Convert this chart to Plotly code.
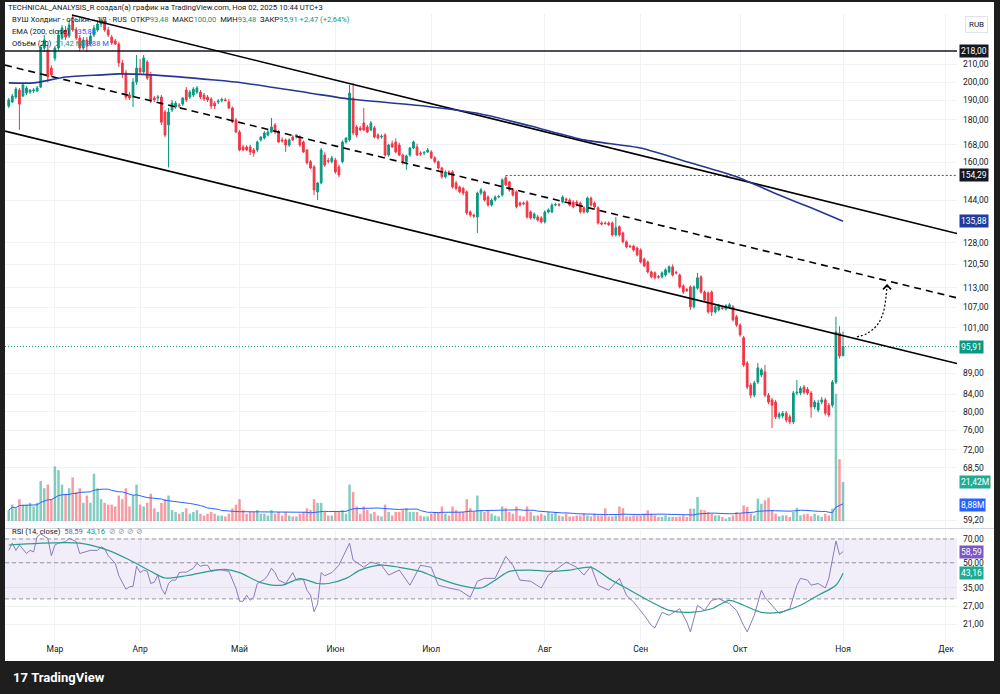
import math
import pandas as pd
import plotly.graph_objects as go

# ---------------- data ----------------
opens = [
    187.1, 189.2, 191.8, 195.6, 192.4, 194.0, 194.5, 195.1, 195.1, 197.2,
    219.8, 218.6, 207.9, 213.7, 219.8, 226.0, 231.1, 227.2, 236.3, 231.1,
    226.0, 219.8, 224.8, 222.3, 227.9, 231.1, 235.0, 236.3, 231.1, 226.6,
    224.2, 222.3, 210.8, 205.1, 192.9, 191.8, 200.0, 207.9, 205.7, 211.4,
    204.0, 191.3, 191.3, 191.8, 184.0, 177.5, 185.1, 186.6, 187.6, 188.1,
    195.6, 191.8, 192.9, 194.5, 194.5, 192.9, 191.8, 190.8, 188.6, 189.2,
    190.0, 190.3, 189.2, 186.1, 180.0, 174.1, 167.0, 167.0, 167.0, 165.6,
    165.6, 170.3, 171.2, 172.6, 174.1, 177.5, 174.1, 170.3, 170.3, 167.9,
    171.7, 171.7, 171.7, 169.3, 165.6, 160.3, 158.0, 147.4, 151.1, 163.3,
    160.8, 160.3, 161.1, 158.0, 160.3, 169.3, 170.3, 191.3, 176.5, 176.0,
    178.5, 176.5, 175.1, 176.1, 172.6, 171.7, 172.6, 163.3, 168.5, 169.3,
    167.9, 163.3, 160.3, 163.3, 166.5, 167.0, 164.2, 164.2, 164.7, 164.7,
    162.0, 160.3, 157.5, 153.7, 155.8, 155.8, 151.1, 149.4, 148.8, 147.4,
    139.4, 138.2, 137.5, 146.9, 147.4, 145.3, 142.1, 144.1, 145.3, 146.1,
    153.3, 151.5, 148.2, 147.4, 142.9, 142.9, 143.3, 139.4, 137.1, 137.5,
    137.1, 135.6, 139.4, 139.4, 142.1, 142.3, 143.3, 144.5, 144.1, 143.3,
    143.3, 142.9, 141.0, 139.4, 144.9, 142.9, 141.0, 135.2, 135.2, 135.2,
    135.2, 130.8, 133.8, 131.5, 128.3, 126.8, 126.8, 126.1, 125.4, 122.3,
    121.3, 118.0, 117.7, 116.5, 116.4, 117.0, 118.0, 119.7, 117.9, 117.0,
    113.5, 112.4, 113.2, 107.1, 112.8, 116.4, 111.6, 111.3, 111.6, 105.6,
    106.2, 106.8, 106.5, 107.1, 107.1, 104.2, 101.8, 98.3, 91.6, 86.2,
    83.8, 86.9, 88.6, 89.4, 83.8, 82.7, 82.2, 78.9, 79.1, 79.7,
    78.9, 77.8, 84.3, 84.3, 85.7, 85.2, 84.3, 81.1, 80.4, 82.2,
    82.7, 81.5, 81.5, 86.9, 99.6, 93.48,
]
highs = [
    191.4, 193.5, 197.2, 196.7, 199.5, 197.8, 196.1, 196.7, 197.8, 221.7,
    227.9, 221.7, 209.5, 221.0, 231.1, 234.3, 233.7, 237.6, 240.9, 233.0,
    227.9, 226.6, 226.6, 229.2, 234.3, 237.6, 239.5, 238.2, 233.0, 227.9,
    225.4, 223.6, 212.6, 206.8, 194.5, 202.2, 215.6, 213.2, 215.6, 212.6,
    205.7, 192.4, 192.9, 192.9, 185.1, 186.1, 190.3, 189.7, 188.6, 191.8,
    197.2, 195.6, 197.2, 197.8, 195.6, 194.0, 192.9, 191.8, 189.7, 190.8,
    191.5, 191.3, 190.8, 186.8, 181.0, 175.0, 168.0, 167.8, 168.0, 166.5,
    170.0, 172.0, 174.5, 175.0, 181.0, 178.5, 175.0, 171.5, 171.0, 171.0,
    172.5, 173.0, 172.5, 170.0, 166.0, 161.0, 158.8, 151.5, 166.5, 164.5,
    162.0, 163.0, 162.0, 159.0, 170.0, 171.5, 198.4, 199.5, 177.5, 177.0,
    186.1, 177.5, 179.5, 177.0, 173.5, 173.0, 173.5, 168.5, 170.0, 171.0,
    169.0, 164.0, 163.5, 167.0, 170.0, 168.5, 165.0, 165.0, 166.5, 165.5,
    162.8, 160.8, 158.0, 156.5, 156.5, 156.5, 152.0, 150.0, 149.5, 148.0,
    140.0, 138.8, 147.5, 149.0, 148.0, 146.0, 144.8, 146.0, 146.2, 153.0,
    154.29, 152.0, 149.0, 148.0, 143.5, 143.5, 144.0, 140.0, 139.2, 138.2,
    137.8, 140.0, 140.8, 142.8, 143.0, 142.9, 146.0, 145.0, 144.8, 144.0,
    144.0, 143.5, 141.6, 145.5, 145.5, 143.5, 141.6, 135.8, 135.8, 135.8,
    135.8, 137.5, 134.3, 132.0, 128.8, 127.3, 127.3, 126.6, 126.0, 122.8,
    121.8, 118.5, 118.2, 117.0, 118.2, 119.2, 120.2, 120.5, 118.4, 117.5,
    114.0, 112.9, 113.7, 113.7, 117.7, 116.9, 112.1, 111.8, 112.1, 107.6,
    108.0, 107.3, 107.9, 108.2, 107.6, 104.7, 102.3, 98.8, 92.1, 86.7,
    87.2, 91.6, 90.4, 91.1, 84.3, 83.2, 82.7, 80.0, 80.2, 80.2,
    79.4, 84.8, 87.4, 85.9, 86.2, 85.7, 84.8, 82.7, 82.7, 83.4,
    83.2, 82.0, 87.4, 104.2, 101.5, 100.0,
]
lows = [
    186.1, 188.6, 190.8, 175.1, 191.8, 192.9, 193.4, 194.0, 194.5, 196.7,
    217.4, 199.8, 203.0, 212.0, 218.6, 224.8, 224.8, 226.0, 230.0, 224.8,
    217.4, 218.6, 217.4, 221.0, 226.6, 230.0, 233.0, 230.0, 226.6, 221.7,
    221.7, 208.5, 202.2, 190.3, 190.3, 186.6, 198.4, 204.6, 204.6, 201.1,
    188.6, 189.2, 189.7, 177.5, 171.7, 157.8, 184.0, 185.6, 186.1, 187.1,
    189.2, 190.8, 191.8, 193.4, 190.8, 189.7, 189.2, 185.6, 185.6, 188.1,
    189.0, 189.5, 185.5, 178.5, 173.5, 165.0, 165.0, 165.1, 163.3, 162.5,
    164.5, 169.5, 170.5, 172.0, 173.5, 173.0, 169.0, 169.0, 164.7, 167.0,
    169.8, 171.0, 167.0, 164.2, 159.0, 157.0, 146.1, 144.1, 150.5, 158.0,
    159.5, 159.5, 155.0, 153.5, 159.5, 168.5, 169.5, 172.5, 171.5, 174.5,
    174.5, 173.5, 174.5, 171.0, 170.5, 170.8, 162.5, 162.5, 166.5, 164.0,
    162.8, 159.0, 156.7, 162.5, 166.0, 162.8, 163.0, 163.3, 164.2, 161.5,
    159.5, 156.8, 152.9, 153.0, 154.2, 148.8, 148.0, 146.8, 146.0, 138.2,
    137.5, 137.1, 131.5, 146.0, 143.5, 141.5, 141.5, 143.5, 144.8, 145.5,
    149.8, 147.5, 145.5, 140.8, 141.5, 142.0, 136.8, 136.5, 136.5, 135.8,
    135.0, 135.0, 138.8, 139.0, 141.6, 141.5, 142.8, 143.6, 141.6, 140.8,
    141.6, 138.8, 138.8, 138.9, 141.5, 140.8, 134.6, 134.3, 134.5, 134.0,
    130.2, 130.2, 130.2, 127.8, 126.0, 126.1, 124.9, 123.2, 120.8, 119.5,
    117.5, 115.9, 115.6, 115.8, 115.9, 116.5, 117.5, 116.5, 117.2, 112.7,
    111.0, 111.6, 106.2, 106.6, 112.3, 111.1, 108.7, 105.1, 104.4, 105.1,
    105.7, 106.2, 106.0, 106.6, 102.8, 101.3, 98.6, 90.6, 85.2, 83.1,
    83.3, 86.4, 88.1, 83.3, 81.7, 76.5, 78.4, 78.4, 78.6, 77.7,
    77.3, 77.3, 83.8, 83.8, 84.0, 83.8, 78.7, 80.6, 79.9, 81.7,
    79.2, 78.8, 81.0, 86.4, 92.8, 93.48,
]
closes = [
    190.3, 192.4, 196.1, 188.1, 198.4, 196.7, 195.6, 195.6, 196.7, 220.4,
    224.8, 202.8, 204.0, 219.8, 227.9, 232.4, 226.6, 234.3, 231.1, 226.0,
    219.8, 224.8, 221.0, 227.2, 232.4, 235.0, 237.6, 231.1, 227.9, 223.0,
    222.3, 210.8, 205.1, 191.8, 191.3, 200.0, 207.9, 205.7, 213.8, 202.2,
    190.3, 190.3, 191.8, 178.9, 172.6, 184.0, 188.6, 188.6, 187.1, 191.3,
    190.3, 194.5, 196.1, 196.7, 191.8, 190.8, 190.3, 187.1, 187.1, 189.7,
    190.5, 190.0, 186.1, 179.0, 174.1, 165.6, 165.6, 165.6, 164.7, 164.2,
    169.3, 171.7, 173.6, 174.1, 176.5, 174.1, 169.3, 169.8, 167.9, 170.3,
    170.3, 172.6, 167.9, 164.7, 159.8, 157.5, 148.2, 151.1, 165.6, 158.8,
    160.5, 162.0, 155.8, 154.5, 169.3, 171.2, 193.9, 173.6, 172.6, 175.1,
    175.1, 174.1, 178.5, 171.7, 171.2, 172.0, 163.3, 167.9, 167.0, 164.7,
    163.3, 160.3, 162.9, 166.5, 169.3, 163.3, 163.8, 164.5, 165.6, 162.0,
    160.3, 157.5, 153.7, 155.8, 155.0, 149.4, 148.8, 147.4, 146.9, 139.0,
    138.2, 137.8, 146.9, 148.2, 144.1, 142.1, 144.1, 145.3, 145.5, 152.4,
    150.3, 148.2, 146.1, 141.4, 142.1, 142.6, 137.5, 137.1, 138.6, 136.3,
    135.6, 139.4, 140.2, 142.1, 142.3, 142.1, 145.3, 144.1, 142.1, 141.4,
    142.1, 139.4, 139.4, 144.9, 142.1, 141.4, 135.2, 134.8, 135.0, 134.5,
    130.8, 133.4, 130.8, 128.3, 126.5, 126.6, 125.4, 123.7, 121.3, 120.0,
    118.0, 116.4, 116.1, 116.3, 117.7, 118.7, 119.7, 117.0, 117.7, 113.2,
    111.6, 112.1, 107.1, 113.2, 116.1, 111.6, 109.2, 105.6, 105.6, 107.1,
    107.4, 106.6, 107.4, 107.7, 103.3, 101.8, 99.1, 91.1, 85.7, 83.8,
    86.7, 90.4, 89.9, 83.8, 82.2, 81.5, 78.9, 79.5, 79.7, 78.2,
    77.8, 84.3, 84.5, 85.4, 84.5, 84.3, 81.1, 82.2, 82.0, 82.7,
    79.7, 79.3, 86.9, 99.9, 93.44, 95.91,
]
volumes_m = [
    6, 9, 7, 12, 9, 9, 10, 8, 10, 22, 18, 20, 12, 30,
    28, 20, 15, 18, 24, 16, 18, 10, 14, 10, 26, 18, 12, 10, 9, 9, 8, 14,
    12, 18, 8, 14, 20, 9, 8, 10, 15, 7, 5, 10, 12, 14, 6, 5, 4, 5, 7, 4, 5, 6, 4, 3, 4, 5, 4,
    3, 3, 2.5, 4, 7, 9, 12, 6, 4, 5, 5, 6, 4, 4, 3, 6, 4, 5, 3, 5, 3, 2.5, 2.5, 4, 5,
    7, 6, 12, 10, 10, 5, 3, 3, 5, 5, 6, 4,
    20, 16, 8, 4, 8, 6, 4, 5, 3, 2.5, 9, 5, 3, 5, 5, 6, 7, 5, 5, 5, 3, 2.5,
    2.5, 4, 5, 5, 8, 4, 3, 8, 6, 5, 5, 12, 7, 5, 14, 6, 5, 6, 4, 3,
    2.5, 8, 7, 5, 4, 8, 3, 2.5, 8, 5, 3, 3, 4, 3, 5, 4, 5, 3, 2.5, 4,
    2.5, 2.5, 3, 3, 4, 3, 2.5, 4, 3, 3, 7, 2.5, 2.5, 3, 8, 7, 2.5, 2.5, 3,
    3,
    3.1, 4.0, 5.9, 4.0, 3.1, 2.2, 2.2, 3.1, 2.2, 2.2,
    2.2, 2.5, 3.1, 2.2, 6.8, 6.8, 13.2, 6.2, 5.9, 5.0,
    4.0, 3.1, 3.1, 2.2, 1.3, 2.2, 3.1, 5.0, 4.0, 8.6,
    7.7, 4.0, 3.1, 12.3, 9.5, 11.4, 12.8, 5.9, 4.0, 2.6,
    3.1, 3.1, 2.2, 5.0, 7.2, 3.1, 3.7, 4.0, 2.6, 4.0,
    3.1, 2.2, 4.0, 3.1, 6.8, 70, 34, 21.42,
]

ema_idx = [0, 7, 16, 26, 31, 40, 58, 66, 85, 96, 117, 133, 147, 162, 178, 192, 205, 217, 226, 235]
ema_val = [199.5, 199.5, 202.8, 204.0, 204.6, 204.0, 201.1, 199.5, 193.9, 190.8,
           187.1, 183.0, 177.0, 170.3, 166.5, 159.8, 153.7, 146.1, 141.0, 135.88]

rsi_idx = [0, 1, 2, 3, 5, 6, 7, 8, 9, 11, 12, 13, 14, 16, 17, 19, 20, 22, 23, 25,
           26, 27, 28, 30, 31, 33, 34, 35, 36, 37, 38, 39, 40, 41, 42, 43, 44, 45, 46, 47,
           48, 49, 50, 52, 53, 54, 55, 56, 57, 59, 60, 62, 63, 64, 65, 66, 67, 68, 69, 70,
           72, 73, 74, 75, 76, 77, 78, 80, 81, 83, 84, 85, 86, 87, 88, 89, 91, 93, 96, 97,
           100, 102, 105, 107, 110, 113, 114, 116, 119, 121, 124, 127, 130, 132, 134, 137, 140, 142, 144, 147,
           150, 152, 154, 157, 160, 162, 164, 166, 169, 172, 174, 176, 179, 181, 182, 184, 186, 189, 191, 192,
           194, 196, 198, 200, 203, 205, 207, 208, 210, 212, 213, 215, 217, 220, 222, 223, 225, 226, 228, 230,
           231, 233, 234, 235]
rsi_val = [59.6, 66.0, 59.6, 64.3, 57.0, 59.6, 58.3, 72.3, 75.1, 70.7, 55.3, 64.3, 66.0, 67.4, 70.7, 67.4, 57.0, 58.3, 59.6, 59.6,
           62.7, 61.2, 55.3, 49.6, 41.6, 34.4, 35.6, 35.8, 47.6, 43.5, 45.1, 44.3, 37.3, 38.0, 42.0, 34.8, 32.0, 37.3, 39.1, 39.1,
           43.5, 43.8, 43.8, 46.3, 49.6, 47.6, 48.3, 48.3, 44.3, 45.1, 45.1, 44.3, 39.1, 34.8, 29.0, 29.0, 31.6, 29.4, 30.8, 37.3,
           39.5, 42.0, 46.3, 43.5, 39.1, 38.0, 37.3, 43.5, 39.1, 39.5, 33.9, 31.6, 25.0, 28.0, 43.5, 41.6, 43.5, 48.3, 66.0, 52.0,
           46.9, 50.5, 48.3, 42.0, 45.1, 36.4, 40.1, 48.3, 46.9, 36.4, 35.0, 33.9, 30.7, 38.5, 40.1, 40.1, 54.7, 48.3, 39.1, 38.5,
           35.0, 42.0, 45.1, 50.5, 46.9, 42.0, 47.6, 36.4, 33.9, 40.1, 31.6, 28.7, 23.8, 20.6, 19.9, 24.8, 23.8, 26.1, 21.6, 18.8,
           27.4, 25.5, 29.4, 30.1, 28.0, 25.5, 20.6, 18.8, 23.8, 33.9, 30.7, 27.4, 24.4, 26.1, 36.4, 40.1, 39.1, 36.4, 37.3, 35.0,
           40.1, 68.0, 56.1, 58.59]
rsi_ma_idx = [0, 20, 28, 34, 40, 44, 50, 58, 61, 65, 71, 77, 82, 87, 90, 95, 99, 105, 110, 116,
              121, 127, 133, 137, 141, 147, 152, 158, 164, 169, 175, 181, 186, 192, 198, 203, 207, 212, 217, 223,
              228, 233, 235]
rsi_ma_val = [64.3, 66.0, 59.6, 52.0, 44.3, 40.3, 41.6, 45.1, 45.6, 43.5, 37.8, 36.4, 40.0, 37.3, 37.3, 40.1, 45.1, 48.3, 46.9, 44.3,
              40.1, 36.4, 35.0, 39.1, 44.3, 45.1, 44.3, 45.1, 46.9, 40.1, 33.9, 28.7, 25.5, 24.8, 26.1, 29.4, 27.4, 24.8, 24.8, 27.4,
              31.6, 36.4, 43.16]

month_idx = [13, 37, 65, 92, 119, 151, 178, 206, 235, 264]
month_lbl = ["Мар", "Апр", "Май", "Июн", "Июл", "Авг", "Сен", "Окт", "Ноя", "Дек"]
price_ticks = [59.2, 68.5, 72, 76, 80, 84, 89, 101, 107, 113, 120.5, 128, 144, 160, 168, 180, 190, 200, 210]
rsi_ticks = [21, 27, 35, 50, 70]
rsi_levels = [30, 50, 70]

level_218 = 218.0
swing_level = 154.29
swing_from_idx = 140
last_close = 95.91
ema_last = 135.88
vol_last = 21.42
vol_ma_last = 8.88
rsi_last = 58.59
rsi_ma_last = 43.16

upper_idx, upper_px = [17.8, 267.1], [240.9, 131.3]
lower_idx, lower_px = [-1.06, 267.1], [174.5, 91.5]
mid_idx, mid_px = [-1.06, 267.1], [209.6, 109.8]
arrow_idx = [238.9, 241.8, 244.6, 246.3, 247.1, 247.4]
arrow_px = [98.5, 99.5, 101.8, 105.3, 110.1, 114.1]

X_MIN, X_MAX = -1.06, 267.1

# ---------------- styling ----------------
UP, DOWN = "#089981", "#f23645"
TXT = "#131722"
GRID = "#f0f2f6"
FONT = "Roboto, Arial, sans-serif"

bar_idx = list(range(len(closes)))
vol_colors = ["rgba(8,153,129,0.5)" if c >= o else "rgba(242,54,69,0.5)" for o, c in zip(opens, closes)]
vol_ma = pd.Series(volumes_m).rolling(20, min_periods=1).mean().tolist()


def fmt(v):
    return f"{v:.2f}".replace(".", ",")


fig = go.Figure()

# RSI pane
fig.add_trace(go.Scatter(x=[X_MIN, X_MAX, X_MAX, X_MIN], y=[rsi_levels[0], rsi_levels[0], rsi_levels[2], rsi_levels[2]],
                         fill="toself", fillcolor="rgba(126,87,194,0.10)", line=dict(width=0), mode="lines",
                         yaxis="y2", hoverinfo="skip"))
for lvl in rsi_levels:
    fig.add_trace(go.Scatter(x=[X_MIN, X_MAX], y=[lvl, lvl], mode="lines", yaxis="y2",
                             line=dict(color="#9598a1", width=1, dash="4px,3px")))
fig.add_trace(go.Scatter(x=rsi_idx, y=rsi_val, mode="lines", yaxis="y2",
                         line=dict(color="#8c7bb8", width=1)))
fig.add_trace(go.Scatter(x=rsi_ma_idx, y=rsi_ma_val, mode="lines", yaxis="y2",
                         line=dict(color="#2a9d8f", width=1.2, shape="spline", smoothing=0.8)))

# Price pane: levels, channel
fig.add_trace(go.Scatter(x=[X_MIN, X_MAX], y=[level_218, level_218], mode="lines",
                         line=dict(color="#131722", width=1.6)))
fig.add_trace(go.Scatter(x=[swing_from_idx, X_MAX], y=[swing_level, swing_level], mode="lines",
                         line=dict(color="#555555", width=1, dash="2px,2px")))
fig.add_trace(go.Scatter(x=[X_MIN, X_MAX], y=[last_close, last_close], mode="lines",
                         line=dict(color="#089981", width=1, dash="1px,2px")))
fig.add_trace(go.Scatter(x=upper_idx, y=upper_px, mode="lines", line=dict(color="#000000", width=1.6)))
fig.add_trace(go.Scatter(x=lower_idx, y=lower_px, mode="lines", line=dict(color="#000000", width=1.6)))
fig.add_trace(go.Scatter(x=mid_idx, y=mid_px, mode="lines", line=dict(color="#000000", width=1.6, dash="7px,5px")))
fig.add_trace(go.Scatter(x=arrow_idx, y=arrow_px, mode="lines",
                         line=dict(color="#000000", width=1.2, dash="2px,2px", shape="spline")))

# EMA
fig.add_trace(go.Scatter(x=ema_idx, y=ema_val, mode="lines",
                         line=dict(color="#26378f", width=1.6, shape="spline", smoothing=0.6)))

# Candles
fig.add_trace(go.Candlestick(x=bar_idx, open=opens, high=highs, low=lows, close=closes,
                             increasing=dict(line=dict(color=UP, width=1), fillcolor=UP),
                             decreasing=dict(line=dict(color=DOWN, width=1), fillcolor=DOWN),
                             whiskerwidth=0))

# Volume (overlay)
fig.add_trace(go.Bar(x=bar_idx, y=volumes_m, marker=dict(color=vol_colors, line=dict(width=0)),
                     width=0.7, yaxis="y3"))
fig.add_trace(go.Scatter(x=bar_idx, y=vol_ma, mode="lines", yaxis="y3",
                         line=dict(color="#2962ff", width=1)))

# ---------------- layout ----------------
L, R, T, B = 5, 43, 14, 52
W, H = 1000, 694
PW, PH = W - L - R, H - T - B


def px_x(px):
    return (px - L) / PW


def px_y(py):
    return (H - B - py) / PH


price_range = [math.log10(58.1), math.log10(241.6)]
rsi_range = [math.log10(16.3), math.log10(79.5)]

fig.update_layout(
    width=W, height=H, margin=dict(l=L, r=R, t=T, b=B, pad=0),
    paper_bgcolor="white", plot_bgcolor="white", showlegend=False, hovermode=False,
    font=dict(family=FONT, size=9, color=TXT),
    bargap=0.3,
    xaxis=dict(range=[X_MIN, X_MAX], anchor="y2", tickmode="array", tickvals=month_idx, ticktext=month_lbl,
               showgrid=True, gridcolor=GRID, zeroline=False, showline=False, ticks="",
               tickfont=dict(size=8.5, color=TXT), rangeslider=dict(visible=False)),
    yaxis=dict(type="log", domain=[px_y(527), 1], range=price_range, side="right", anchor="x",
               tickmode="array", tickvals=price_ticks, ticktext=[fmt(v) for v in price_ticks],
               showgrid=True, gridcolor=GRID, zeroline=False, showline=False, ticks="",
               tickfont=dict(size=8.5, color=TXT), ticklabelstandoff=5),
    yaxis2=dict(type="log", domain=[0, px_y(530)], range=rsi_range, side="right", anchor="x",
                tickmode="array", tickvals=rsi_ticks, ticktext=[fmt(v) for v in rsi_ticks],
                showgrid=True, gridcolor=GRID, zeroline=False, showline=False, ticks="",
                tickfont=dict(size=8.5, color=TXT), ticklabelstandoff=5),
    yaxis3=dict(overlaying="y", range=[-3.3, 278.9], visible=False, showgrid=False, zeroline=False),
)

shapes = [
    # dark frame and footer
    dict(type="rect", xref="paper", yref="paper", x0=px_x(-2), x1=px_x(5), y0=px_y(700), y1=px_y(-2),
         fillcolor="#1e1e1e", line=dict(width=0), layer="above"),
    dict(type="rect", xref="paper", yref="paper", x0=px_x(994), x1=px_x(1002), y0=px_y(700), y1=px_y(-2),
         fillcolor="#1e1e1e", line=dict(width=0), layer="above"),
    dict(type="rect", xref="paper", yref="paper", x0=px_x(-2), x1=px_x(1002), y0=px_y(2), y1=px_y(-2),
         fillcolor="#1e1e1e", line=dict(width=0), layer="above"),
    dict(type="rect", xref="paper", yref="paper", x0=px_x(-2), x1=px_x(1002), y0=px_y(700), y1=px_y(661),
         fillcolor="#1e1e1e", line=dict(width=0), layer="above"),
    # pane separator
    dict(type="line", xref="paper", yref="paper", x0=0, x1=px_x(994), y0=px_y(528.5), y1=px_y(528.5),
         line=dict(color="#d1d4dc", width=1)),
]
fig.update_layout(shapes=shapes)

G = "color:#089981"
LF = 7.6
ann = []
ann.append(dict(xref="paper", yref="paper", x=px_x(6), y=px_y(8), xanchor="left", yanchor="middle", showarrow=False,
                text="TECHNICAL_ANALYSIS_R создал(а) график на TradingView.com, Ноя 02, 2025 10:44 UTC+3",
                font=dict(size=LF, color=TXT)))
ann.append(dict(xref="paper", yref="paper", x=px_x(10), y=px_y(19), xanchor="left", yanchor="middle", showarrow=False,
                text=("ВУШ Холдинг - обыкн. · 1Д · RUS\u00a0\u00a0ОТКР<span style='%s'>93,48</span>\u00a0\u00a0МАКС"
                      "<span style='%s'>100,00</span>\u00a0\u00a0МИН<span style='%s'>93,48</span>\u00a0\u00a0ЗАКР"
                      "<span style='%s'>95,91</span>\u00a0<span style='%s'>+2,47 (+2,64%%)</span>") % (G, G, G, G, G),
                font=dict(size=LF, color=TXT)))
ann.append(dict(xref="paper", yref="paper", x=px_x(10), y=px_y(32), xanchor="left", yanchor="middle", showarrow=False,
                text="EMA (200, close)\u00a0\u00a0<span style='color:#2962ff'>%s</span>" % fmt(ema_last),
                font=dict(size=LF, color=TXT)))
ann.append(dict(xref="paper", yref="paper", x=px_x(10), y=px_y(44), xanchor="left", yanchor="middle", showarrow=False,
                text="Объём (20)\u00a0\u00a0<span style='%s'>%s M</span>\u00a0\u00a0<span style='color:#2962ff'>%s M</span>"
                     % (G, fmt(vol_last), fmt(vol_ma_last)),
                font=dict(size=LF, color=TXT)))
ann.append(dict(xref="paper", yref="paper", x=px_x(10), y=px_y(531), xanchor="left", yanchor="middle", showarrow=False,
                text="RSI (14, close)\u00a0\u00a0<span style='color:#7e57c2'>%s</span>\u00a0\u00a0<span style='%s'>%s</span>"
                     "\u00a0\u00a0<span style='color:#9598a1'>⊘ ⊘ ⊘ ⊘</span>" % (fmt(rsi_last), G, fmt(rsi_ma_last)),
                font=dict(size=LF, color=TXT)))
# RUB box
ann.append(dict(xref="paper", yref="paper", x=px_x(977), y=px_y(24), xanchor="center", yanchor="middle", showarrow=False,
                text="RUB", font=dict(size=8, color=TXT), bordercolor="#e0e3eb", borderwidth=1, borderpad=3,
                bgcolor="white"))


def side_label(text, y, yref, bg):
    return dict(xref="paper", yref=yref, x=1, y=y, xanchor="left", yanchor="middle", xshift=2, showarrow=False,
                text=text, font=dict(size=8.5, color="white"), bgcolor=bg, borderpad=1)


ann.append(side_label(fmt(level_218), math.log10(level_218), "y", "#131722"))
ann.append(side_label(fmt(swing_level), math.log10(swing_level), "y", "#131722"))
ann.append(side_label(fmt(ema_last), math.log10(ema_last), "y", "#1f3d9e"))
ann.append(side_label(fmt(last_close), math.log10(last_close), "y", "#089981"))
ann.append(side_label(fmt(vol_last) + "M", vol_last, "y3", "#22ab94"))
ann.append(side_label(fmt(vol_ma_last) + "M", vol_ma_last, "y3", "#2962ff"))
ann.append(side_label(fmt(rsi_last), math.log10(rsi_last), "y2", "#7e57c2"))
ann.append(side_label(fmt(rsi_ma_last), math.log10(rsi_ma_last), "y2", "#22ab94"))

# arrow head of the projected path
ann.append(dict(xref="x", yref="y", x=arrow_idx[-1], y=math.log10(arrow_px[-1]), ax=0, ay=5, showarrow=True,
                arrowhead=4, arrowsize=1.4, arrowwidth=1.1, arrowcolor="#000000", text=""))

# footer logo
ann.append(dict(xref="paper", yref="paper", x=px_x(11), y=px_y(677), xanchor="left", yanchor="middle", showarrow=False,
                text="<b>17</b>\u00a0<b>TradingView</b>", font=dict(size=13, color="white")))

fig.update_layout(annotations=ann)

fig.write_html("out.html")
